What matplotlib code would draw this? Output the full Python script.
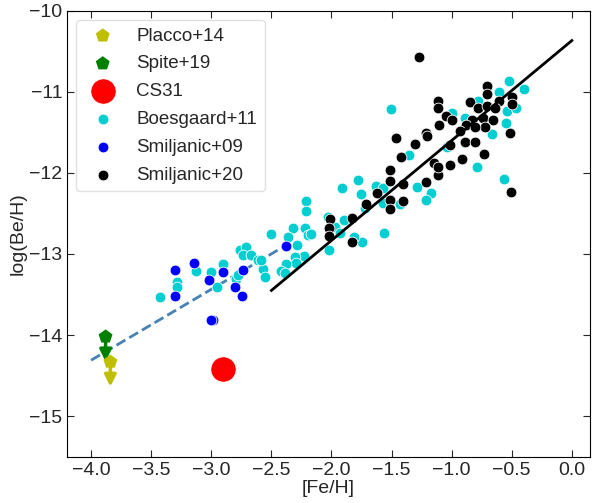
import numpy as np
import matplotlib
matplotlib.use("Agg")
import matplotlib.pyplot as plt

plt.rcParams['font.family'] = ['Liberation Sans', 'DejaVu Sans']

# Boesgaard+11
boes_feh = [-3.425, -3.287, -3.287, -3.125, -3.006, -2.953, -2.903, -2.764, -2.708, -2.737,
            -2.667, -2.612, -2.792, -2.778, -2.57, -2.556, -1.778, -1.912, -1.756, -1.631,
            -2.208, -2.208, -2.506, -2.32, -2.362, -2.222, -2.195, -2.167, -2.283, -2.231,
            -2.30, -2.292, -2.375, -2.423, -2.383, -2.583, -2.03, -1.973, -1.895, -1.931,
            -2.023, -1.745, -1.814, -1.723, -1.57, -1.57, -1.431, -1.287, -1.175, -1.217,
            -1.564, -1.353, -0.787, -1.506, -0.52, -0.395, -0.606, -0.783, -0.542, -0.464,
            -0.548, -0.667, -1.0, -0.889, -0.562, -1.042]
boes_be = [-13.535, -13.346, -13.407, -13.21, -13.22, -13.407, -13.12, -12.954, -12.914, -13.016,
           -13.016, -13.078, -13.304, -13.263, -13.18, -13.284, -12.09, -12.193, -12.267, -12.16,
           -12.349, -12.473, -12.757, -12.686, -12.79, -12.686, -12.769, -12.76, -12.884, -13.025,
           -13.037, -13.111, -13.127, -13.205, -13.23, -13.069, -12.55, -12.667, -12.584, -12.748,
           -12.954, -12.852, -12.79, -12.44, -12.193, -12.378, -12.386, -12.18, -12.247, -12.337,
           -12.736, -11.781, -11.933, -11.217, -10.868, -10.967, -11.007, -11.115, -11.238, -11.198,
           -11.383, -11.526, -11.267, -11.328, -12.081, -11.679]

# Smiljanic+09
sm09_feh = [-3.306, -3.145, -3.306, -3.023, -2.903, -2.737, -2.806, -2.745, -2.987, -3.006, -2.375]
sm09_be = [-13.193, -13.106, -13.514, -13.316, -13.222, -13.193, -13.407, -13.514, -13.81, -13.81, -12.905]

# Smiljanic+20
sm20_feh = [-2.014, -2.023, -2.023, -1.828, -1.828, -1.714, -1.625, -1.514, -1.514, -1.514,
            -1.514, -1.403, -1.403, -1.425, -1.214, -1.145, -1.117, -1.117, -1.014, -0.917,
            -0.728, -1.467, -1.306, -1.214, -1.106, -1.014, -1.27, -1.117, -1.117, -1.048,
            -0.708, -0.708, -0.606, -0.5, -0.495, -0.848, -0.778, -0.708, -0.639, -0.833,
            -0.737, -0.653, -0.723, -0.883, -0.806, -0.931, -1.0, -0.889, -0.806, -0.514,
            -0.506, -1.208]
sm20_be = [-12.572, -12.686, -12.778, -12.551, -12.859, -12.39, -12.254, -11.967, -12.102, -12.337,
           -12.452, -12.14, -12.346, -11.802, -12.119, -11.884, -12.028, -11.933, -11.905, -11.835,
           -11.773, -11.575, -11.646, -11.506, -11.411, -11.658, -10.575, -11.111, -11.198, -11.3,
           -10.93, -11.032, -11.111, -11.062, -11.156, -11.131, -11.205, -11.177, -11.198, -11.349,
           -11.321, -11.349, -11.432, -11.411, -11.432, -11.485, -11.349, -11.625, -11.625, -11.514,
           -12.242, -11.546]

# upper limits
placco_feh, placco_be = -3.84, -14.33
spite_feh, spite_be = -3.88, -14.02
cs31_feh, cs31_be = -2.90, -14.415

# fitted trends
fit_low_feh = [-4.0, -2.375]
fit_low_be = [-14.31, -12.89]
fit_high_feh = [-2.5, 0.0]
fit_high_be = [-13.45, -10.37]

fig, ax = plt.subplots(figsize=(5.94, 5.03), dpi=100)
fig.subplots_adjust(left=0.113, right=0.993, top=0.979, bottom=0.092)

ax.plot(fit_low_feh, fit_low_be, ls='--', color='steelblue', lw=2, zorder=1)
ax.plot(fit_high_feh, fit_high_be, color='black', lw=2, zorder=4)

# arrows for upper limits
for fx, fy, c in [(spite_feh, spite_be, 'green'), (placco_feh, placco_be, 'y')]:
    ax.annotate('', xy=(fx, fy - 0.34), xytext=(fx, fy),
                arrowprops=dict(arrowstyle='-|>', color=c, lw=2.5, mutation_scale=17),
                zorder=2)

h1 = ax.scatter([placco_feh], [placco_be], marker='p', s=110, color='y', edgecolor='none', zorder=3, label='Placco+14')
h2 = ax.scatter([spite_feh], [spite_be], marker='p', s=110, color='green', edgecolor='none', zorder=3, label='Spite+19')
h3 = ax.scatter([cs31_feh], [cs31_be], s=330, color='red', edgecolor='white', lw=0.5, zorder=6, label='CS31')
h4 = ax.scatter(boes_feh, boes_be, s=60, color='darkturquoise', edgecolor='white', lw=0.6, zorder=2, label='Boesgaard+11')
h5 = ax.scatter(sm09_feh, sm09_be, s=60, color='blue', edgecolor='white', lw=0.6, zorder=3, label='Smiljanic+09')
h6 = ax.scatter(sm20_feh, sm20_be, s=60, color='black', edgecolor='white', lw=0.6, zorder=3, label='Smiljanic+20')

ax.set_xlim(-4.2, 0.15)
ax.set_ylim(-15.5, -10)
ax.set_xticks(np.arange(-4.0, 0.01, 0.5))
ax.set_yticks([-15, -14, -13, -12, -11, -10])
ax.tick_params(direction='in', top=True, right=True, labelsize=14, colors='.15', length=5)
for s in ax.spines.values():
    s.set_color('black')
ax.set_xlabel('[Fe/H]', fontsize=14, color='.15', labelpad=1)
ax.set_ylabel('log(Be/H)', fontsize=14, color='.15', labelpad=2)

leg = ax.legend(handles=[h1, h2, h3, h4, h5, h6], loc='upper left', fontsize=13.5,
                labelspacing=0.57, frameon=True)
for t in leg.get_texts():
    t.set_color('.15')
leg.get_frame().set_edgecolor('0.85')

fig.savefig('out.png', dpi=100)
